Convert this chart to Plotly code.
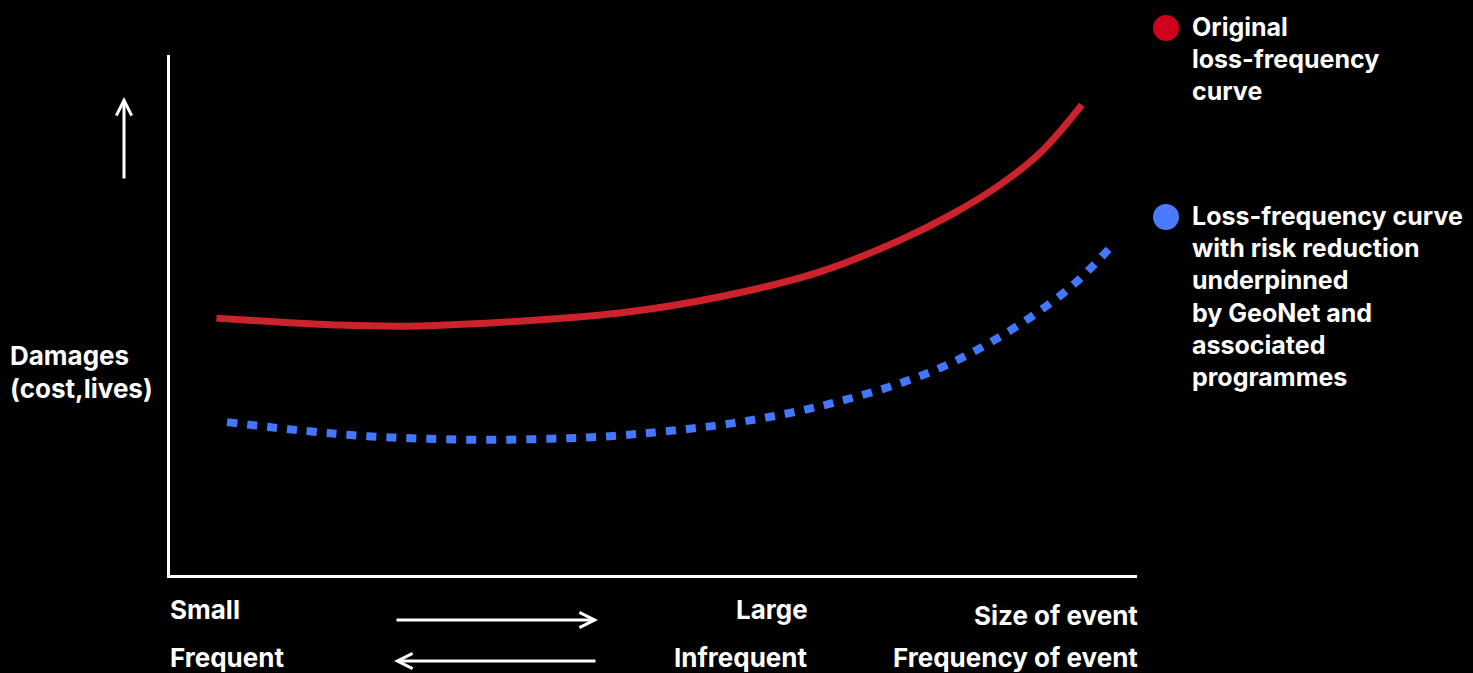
import plotly.graph_objects as go

# ---- data (axis units: x 0-100 size of event, y 0-100 damages) ----
orig_x = [4.8, 16.9, 25.9, 46.5, 56.9, 67.2, 75.5, 80.7, 85.8, 90.0, 94.3]
orig_y = [49.4, 48.1, 47.9, 50.4, 53.5, 58.3, 64.4, 69.2, 75.0, 81.2, 90.4]
red_x = [5.9, 14.0, 20.4, 26.6, 32.9, 39.3, 45.5, 58.2, 68.6, 78.6, 86.0,
         92.9, 97.2]
red_y = [29.4, 27.7, 26.7, 26.2, 26.0, 26.2, 26.7, 29.2, 33.1, 39.0, 46.0,
         55.0, 62.9]

legend_orig = ["Original", "loss-frequency", "curve"]
legend_red = ["Loss-frequency curve", "with risk reduction", "underpinned",
              "by GeoNet and", "associated", "programmes"]
y_title = ["Damages", "(cost,lives)"]

RED = "#CC222B"
BLUE = "#4477FF"
RED_DOT = "#D0021B"
BLUE_DOT = "#4A7BFF"
FONT = "Inter"
FS = 26

W, H = 1473, 673
L, R, T, B = 170, 336, 55, 98
PW, PH = W - L - R, H - T - B


def px(x):
    return (x - L) / PW


def py(y):
    return (H - B - y) / PH


fig = go.Figure()
fig.add_trace(go.Scatter(x=orig_x, y=orig_y, mode="lines", line_shape="spline",
                         line=dict(color=RED, width=7), showlegend=False, hoverinfo="skip"))
fig.add_trace(go.Scatter(x=red_x, y=red_y, mode="lines", line_shape="spline",
                         line=dict(color=BLUE, width=8, dash="10px,10px"),
                         showlegend=False, hoverinfo="skip"))

ann = []


def text(t, x, y, anchor="left", size=FS):
    ann.append(dict(text=t, x=px(x), y=py(y), xref="paper", yref="paper",
                    xanchor=anchor, yanchor="middle", showarrow=False,
                    font=dict(family=FONT, size=size, color="white", weight=700)))


for i, t in enumerate(legend_orig):
    text(t, 1190, 27 + 32 * i, size=25)
for i, t in enumerate(legend_red):
    text(t, 1190, 216 + 32.2 * i, size=25)
for i, t in enumerate(y_title):
    text(t, 8, 356 + 32 * i)

text("Small", 168, 609)
text("Large", 810, 609, "right")
text("Size of event", 1140, 615, "right")
text("Frequent", 168, 658)
text("Infrequent", 810, 658, "right")
text("Frequency of event", 1140, 658, "right")


def arrow(x0, y0, x1, y1):
    ann.append(dict(text="", x=px(x1), y=py(y1), xref="paper", yref="paper",
                    ax=x0 - x1, ay=y0 - y1, axref="pixel", ayref="pixel",
                    showarrow=True, arrowhead=5, arrowsize=1, arrowwidth=3,
                    arrowcolor="white", standoff=0, startstandoff=0))


arrow(124, 180, 124, 97)
arrow(395, 620, 598, 620)
arrow(597, 661, 394, 661)

shapes = [
    dict(type="circle", xref="paper", yref="paper", x0=px(1153), x1=px(1179),
         y0=py(15), y1=py(41), fillcolor=RED_DOT, line=dict(width=0)),
    dict(type="circle", xref="paper", yref="paper", x0=px(1153), x1=px(1179),
         y0=py(204), y1=py(230), fillcolor=BLUE_DOT, line=dict(width=0)),
]

fig.update_layout(
    width=W, height=H,
    margin=dict(l=L, r=R, t=T, b=B),
    paper_bgcolor="black", plot_bgcolor="black",
    xaxis=dict(range=[0, 100], showgrid=False, zeroline=False, showticklabels=False,
               showline=True, linecolor="white", linewidth=3, ticks=""),
    yaxis=dict(range=[0, 100], showgrid=False, zeroline=False, showticklabels=False,
               showline=True, linecolor="white", linewidth=3, ticks=""),
    annotations=ann, shapes=shapes, showlegend=False,
)

fig.write_html("out.html", config={"displayModeBar": False},
               post_script="document.body.style.margin='0';document.body.style.background='black';")
